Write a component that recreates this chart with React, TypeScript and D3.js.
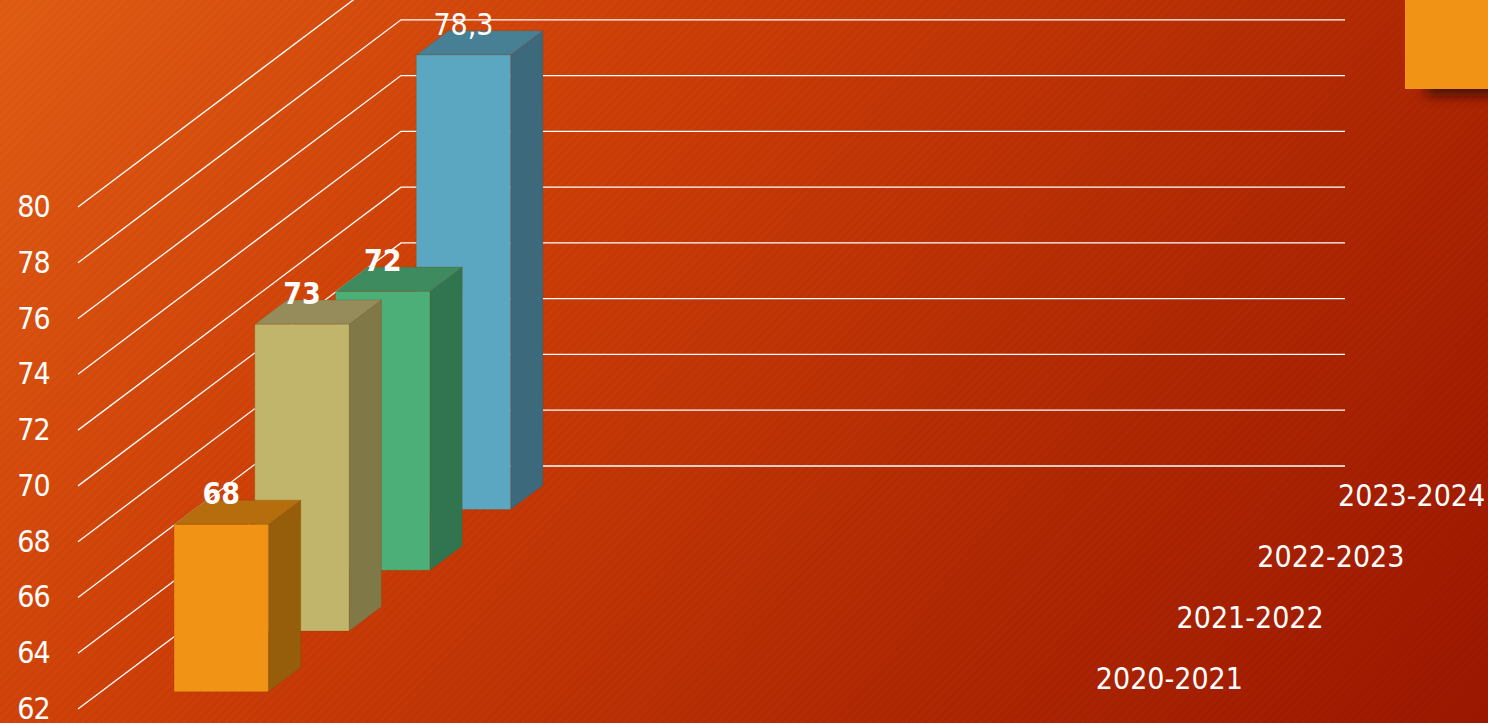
import React from "react";
import * as d3 from "d3";

const seasons = ["2020-2021", "2021-2022", "2022-2023", "2023-2024"];
const values = [68, 73, 72, 78.3];
const valueLabels = ["68", "73", "72", "78,3"];
const yTicks = [62, 64, 66, 68, 70, 72, 74, 76, 78, 80];
const slots = ["a", "b", "c", "d"];
const frontColors = ["#F19315", "#C1B56B", "#4CAF78", "#5BA6C1"];
const topColors = ["#B56D0E", "#968C5B", "#3D8B5E", "#477F94"];
const sideColors = ["#965D0A", "#807846", "#317550", "#3C6A7C"];
const boldLabels = [true, true, true, false];

const W = 1488;
const H = 723;
const FONT = "'DejaVu Sans Condensed','DejaVu Sans',sans-serif";

const xSlot = d3.scaleBand<string>().domain(slots).range([78, 1022]).paddingInner(0.6).paddingOuter(0.3);
const y = d3.scaleLinear().domain([62, 80]).range([709, 207]);
const depth = d3.scaleBand<string>().domain(seasons).range([0, 1]).paddingInner(0.6).paddingOuter(0.3);
const dxScale = d3.scaleLinear().domain([0, 1]).range([0, 323]);
const dyScale = d3.scaleLinear().domain([0, 1]).range([0, -243]);

const project = (x: number, v: number, t: number): [number, number] => [x + dxScale(t), y(v) + dyScale(t)];
const barPoint = (x: number, v: number, t: number): [number, number] => {
  const p = project(x, v, t);
  return [p[0] + 1, p[1] + 1];
};
const path = d3.line();
const poly = (pts: [number, number][]) => path(pts)! + "Z";

export default function App() {
  React.useEffect(() => {
    document.body.style.margin = "0";
    document.body.style.overflow = "hidden";
  }, []);
  const x0 = xSlot("a")!;
  const x1 = x0 + xSlot.bandwidth();
  const order = d3.range(seasons.length).reverse();
  return (
    <svg width={W} height={H} viewBox={`0 0 ${W} ${H}`} style={{ position: "absolute", left: 0, top: 0, display: "block" }} fontFamily={FONT}>
      <defs>
        <linearGradient id="bg" gradientUnits="userSpaceOnUse" x1={80} y1={-160} x2={1400} y2={880}>
          <stop offset="0" stopColor="#E35F15" />
          <stop offset="0.35" stopColor="#CE3E07" />
          <stop offset="0.7" stopColor="#B02803" />
          <stop offset="1" stopColor="#9C1600" />
        </linearGradient>
        <pattern id="stripes" width={6} height={6} patternUnits="userSpaceOnUse" patternTransform="rotate(-45)">
          <rect width={6} height={3} fill="#000" opacity={0.028} />
        </pattern>
        <filter id="sh" x="-50%" y="-100%" width="200%" height="300%">
          <feGaussianBlur stdDeviation={6} />
        </filter>
      </defs>
      <rect width={W} height={H} fill="url(#bg)" />
      <rect width={W} height={H} fill="url(#stripes)" />

      <rect x={1426} y={76} width={80} height={20} fill="#3A0A00" opacity={0.85} filter="url(#sh)" />
      <rect x={1405} y={0} width={83} height={89} fill="#F19315" />

      {yTicks.map((v) => {
        const a = project(78, v, 0);
        const b = project(78, v, 1);
        const c = project(1022, v, 1);
        return <path key={v} d={path([a, b, c])!} fill="none" stroke="#fff" strokeWidth={1.3} />;
      })}

      {yTicks.map((v) => (
        <text key={v} x={50} y={y(v) + 10} textAnchor="end" fill="#fff" fontSize={30} letterSpacing={-0.8}>{v}</text>
      ))}

      {order.map((i) => {
        const t0 = depth(seasons[i])!;
        const t1 = t0 + depth.bandwidth();
        const v = values[i];
        const fbl = barPoint(x0, 62, t0);
        const fbr = barPoint(x1, 62, t0);
        const ftl = barPoint(x0, v, t0);
        const ftr = barPoint(x1, v, t0);
        const btl = barPoint(x0, v, t1);
        const btr = barPoint(x1, v, t1);
        const bbr = barPoint(x1, 62, t1);
        return (
          <g key={seasons[i]} strokeWidth={1} strokeOpacity={0.22} stroke="#7A3A00">
            <path d={poly([ftr, btr, bbr, fbr])} fill={sideColors[i]} />
            <path d={poly([ftl, btl, btr, ftr])} fill={topColors[i]} />
            <path d={poly([ftl, ftr, fbr, fbl])} fill={frontColors[i]} />
          </g>
        );
      })}

      {values.map((v, i) => {
        const t0 = depth(seasons[i])!;
        const p = barPoint(x0 + xSlot.bandwidth() / 2, v, t0);
        return (
          <text key={i} x={p[0]} y={p[1] - 20} textAnchor="middle" fill="#fff" fontSize={30} fontWeight={boldLabels[i] ? 700 : 400}>
            {valueLabels[i]}
          </text>
        );
      })}

      {seasons.map((s) => {
        const t = depth(s)! + depth.bandwidth() / 2;
        const p = project(1022, 62, t);
        return (
          <text key={s} x={p[0] + 107} y={p[1] + 10} textAnchor="middle" fill="#fff" fontSize={30}>{s}</text>
        );
      })}
    </svg>
  );
}
